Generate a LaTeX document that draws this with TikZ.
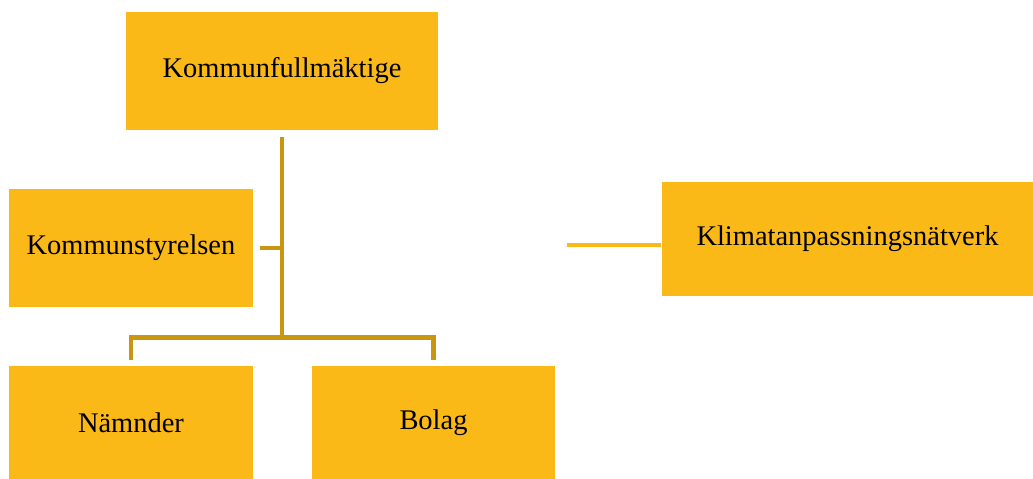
\documentclass[tikz,border=0pt]{standalone}
\usepackage{fontspec}
\setmainfont{Liberation Serif}
\usetikzlibrary{calc}
\definecolor{boxgold}{HTML}{FBB917}
\definecolor{linegold}{HTML}{C9960F}
\tikzset{block/.style = {fill=boxgold, rectangle, inner sep=0pt, minimum height=2.36cm, minimum width=4.88cm, font=\fontsize{16.2}{19}\selectfont},
         wide/.style = {block, minimum width=6.24cm},
         link/.style = {draw=linegold, line width=0.09cm},
         side/.style = {draw=boxgold, line width=0.07cm}}

\begin{document}
\begin{tikzpicture}[x=0.02cm,y=-0.02cm]
    \useasboundingbox (0,0) rectangle (1033,479);
    \node[wide](kf)at(282,71){Kommunfullmäktige};
    \node[block](ks)at(131,248){Kommunstyrelsen};
    \node[block, minimum height=2.26cm](nd)at(131,422.5){Nämnder};
    \node[block, minimum height=2.26cm](bo)at(433.5,422.5){Bolag};
    \node[block, minimum width=7.42cm, minimum height=2.28cm](kl)at(847.5,239){Klimatanpassningsnätverk};
    \coordinate(hub)at($(kf.south)+(0,207)$);
    \coordinate(kl-in)at($(kl.west)+(-95,6)$);
    % stam och grenar
    \draw[link]($(kf.south)+(0,7)$)--(hub);
    \draw[link]($(ks.east)+(7,0)$)--(ks.east -| hub);
    \draw[link]($(nd.north)+(0,-6)$)--(nd.north |- hub)--(bo.north |- hub)--($(bo.north)+(0,-6)$);
    %\draw[link](hub)--(kl.west);
    \draw[side](kl-in)--($(kl.west)+(-1,6)$);
\end{tikzpicture}
\end{document}
